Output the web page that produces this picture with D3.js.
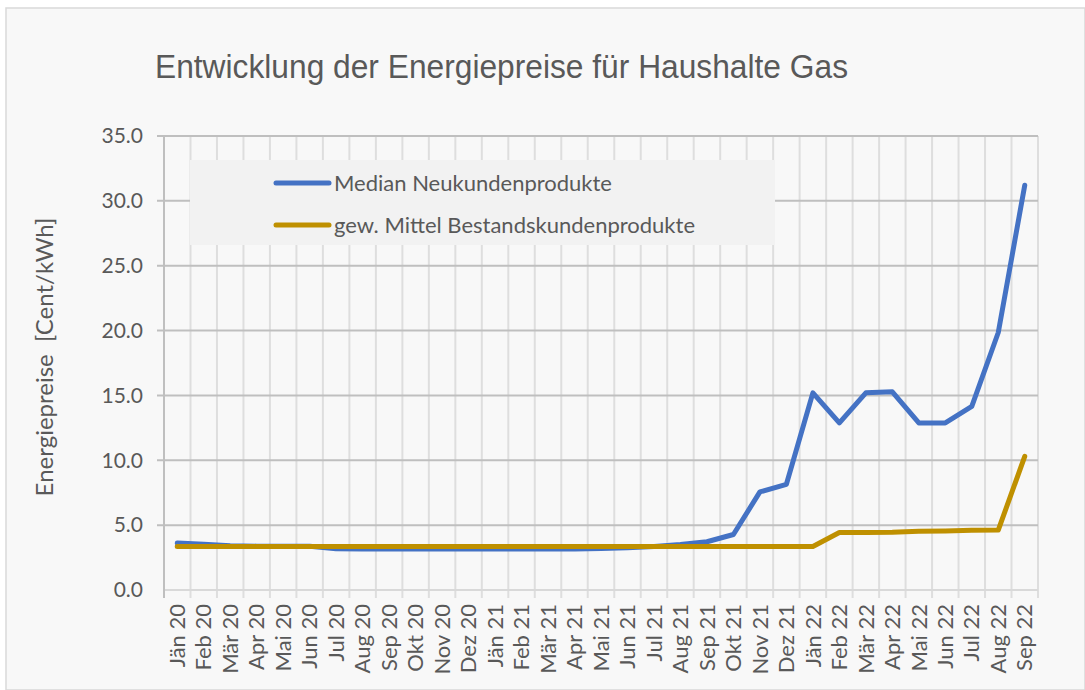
<!DOCTYPE html>
<html><head><meta charset="utf-8">
<script src="https://cdn.jsdelivr.net/npm/d3@7"></script>
<style>body{margin:0;background:#fff}svg{display:block}</style>
</head><body>
<script>
const months = ["Jän 20","Feb 20","Mär 20","Apr 20","Mai 20","Jun 20","Jul 20","Aug 20","Sep 20","Okt 20","Nov 20","Dez 20",
"Jän 21","Feb 21","Mär 21","Apr 21","Mai 21","Jun 21","Jul 21","Aug 21","Sep 21","Okt 21","Nov 21","Dez 21",
"Jän 22","Feb 22","Mär 22","Apr 22","Mai 22","Jun 22","Jul 22","Aug 22","Sep 22"];
const medianNeukunden = [3.62,3.52,3.42,3.38,3.38,3.38,3.18,3.16,3.16,3.16,3.16,3.16,
3.16,3.16,3.16,3.16,3.2,3.26,3.36,3.5,3.72,4.28,7.56,8.15,
15.2,12.88,15.2,15.28,12.88,12.88,14.15,19.85,31.2];
const gewMittelBestand = [3.35,3.35,3.35,3.35,3.35,3.35,3.35,3.35,3.35,3.35,3.35,3.35,
3.35,3.35,3.35,3.35,3.35,3.35,3.35,3.35,3.35,3.35,3.35,3.35,
3.35,4.43,4.43,4.45,4.52,4.55,4.6,4.62,10.3];
const yTicks = [0,5,10,15,20,25,30,35];
const seriesNames = ["Median Neukundenprodukte","gew. Mittel Bestandskundenprodukte"];
const seriesColors = ["#4472c4","#bf9000"];

const W=1085,H=690;
const svg=d3.select("body").append("svg").attr("width",W).attr("height",H);
svg.append("rect").attr("x",6).attr("y",8).attr("width",W-6).attr("height",H-8)
  .attr("fill","#f8f8f8").attr("stroke","#d9d9d9").attr("stroke-width",1.5);

const pL=164,pR=1038,pT=136,pB=590;
const x=d3.scaleBand().domain(months).range([pL,pR]);
const y=d3.scaleLinear().domain([0,35]).range([pB,pT]);

const g=svg.append("g");
const bounds=months.map(m=>x(m)).concat([pR]);
g.selectAll("line.v").data(bounds.slice(1)).enter().append("line")
  .attr("x1",d=>d).attr("x2",d=>d).attr("y1",pT).attr("y2",pB+8)
  .attr("stroke","#dedede").attr("stroke-width",2);
g.selectAll("line.h").data(yTicks.filter(t=>t>0)).enter().append("line")
  .attr("x1",pL-7).attr("x2",pR).attr("y1",d=>y(d)).attr("y2",d=>y(d))
  .attr("stroke","#bfbfbf").attr("stroke-width",2);
g.append("line").attr("x1",pL).attr("x2",pR).attr("y1",pB).attr("y2",pB)
  .attr("stroke","#d9d9d9").attr("stroke-width",2);
g.append("line").attr("x1",pL).attr("x2",pL).attr("y1",pT).attr("y2",pB+8)
  .attr("stroke","#bfbfbf").attr("stroke-width",2);

const yAxis=d3.axisLeft(y).tickValues(yTicks).tickFormat(d3.format(".1f")).tickSize(0).tickPadding(21);
const ya=svg.append("g").attr("transform",`translate(${pL},0)`).call(yAxis);
ya.select(".domain").remove();
ya.selectAll("text").attr("font-family","Lato").attr("font-size",21).attr("fill","#595959");

const xAxis=d3.axisBottom(x).tickSize(0).tickPadding(0);
const xa=svg.append("g").attr("transform",`translate(0,${pB})`).call(xAxis);
xa.select(".domain").remove();
xa.selectAll("text").attr("font-family","Lato").attr("font-size",22).attr("fill","#595959")
  .attr("text-anchor","end").attr("y",0).attr("dy","0.35em").attr("transform","translate(0,14) rotate(-90)");

svg.append("rect").attr("x",190).attr("y",160).attr("width",585).attr("height",85).attr("fill","#f2f2f2");
const lg=svg.append("g");
seriesNames.forEach((n,i)=>{
  const yy=183+i*42;
  lg.append("line").attr("x1",276).attr("x2",329).attr("y1",yy).attr("y2",yy)
    .attr("stroke",seriesColors[i]).attr("stroke-width",5).attr("stroke-linecap","round");
  lg.append("text").attr("x",334).attr("y",yy).attr("dy","0.35em").text(n)
    .attr("font-family","Lato").attr("font-size",22).attr("fill","#595959");
});

const line=d3.line().x((d,i)=>x(months[i])+x.bandwidth()/2).y(d=>y(d));
[medianNeukunden,gewMittelBestand].forEach((s,i)=>{
  svg.append("path").datum(s).attr("d",line).attr("fill","none")
    .attr("stroke",seriesColors[i]).attr("stroke-width",5)
    .attr("stroke-linecap","round").attr("stroke-linejoin","round");
});

svg.append("text").attr("x",155).attr("y",78).text("Entwicklung der Energiepreise für Haushalte Gas")
  .attr("font-family","'Liberation Sans',Arial,sans-serif").attr("font-size",34).attr("fill","#595959")
  .attr("textLength",693).attr("lengthAdjust","spacingAndGlyphs");

svg.append("text").attr("transform","translate(45,357) rotate(-90)").attr("text-anchor","middle")
  .attr("dy","0.35em").attr("xml:space","preserve").text("Energiepreise  [Cent/kWh]")
  .attr("font-family","Lato").attr("font-size",24).attr("fill","#595959");
</script>
</body></html>
